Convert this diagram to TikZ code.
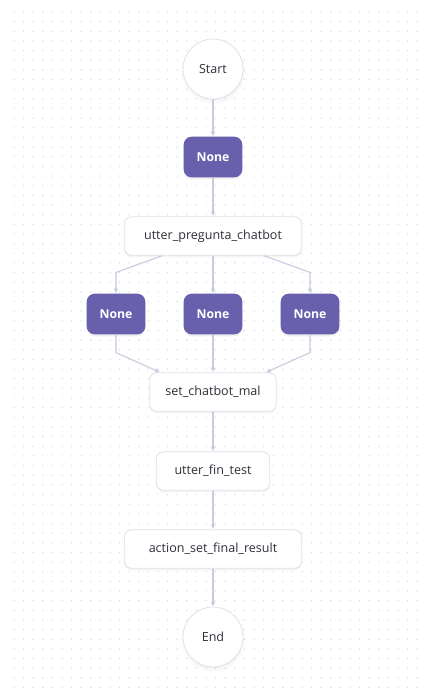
\documentclass[tikz,border=0pt]{standalone}
\usepackage{fontspec}
\setmainfont{Open Sans}
\usetikzlibrary{arrows.meta,shadows,calc}
\definecolor{nonefill}{HTML}{6860AD}
\definecolor{nodeborder}{HTML}{DEE1EC}
\definecolor{edgecol}{HTML}{C6CBE0}
\definecolor{dotcol}{HTML}{D6D8E4}
\definecolor{txt}{HTML}{2E3038}
\tikzset{
  base/.style={font=\fontsize{9.4}{11}\selectfont, text=txt, inner sep=0pt},
  plain/.style={base, rectangle, rounded corners=5.5pt, draw=nodeborder, line width=0.6pt, fill=white,
     minimum height=29pt, drop shadow={opacity=0.08, shadow xshift=0pt, shadow yshift=-1.5pt}},
  nonebox/.style={base, rectangle, rounded corners=6pt, fill=nonefill, text=white, font=\fontsize{9.2}{11}\selectfont\bfseries,
     minimum width=44pt, minimum height=30.5pt, drop shadow={opacity=0.12, shadow xshift=0pt, shadow yshift=-1.5pt}},
  term/.style={base, circle, draw=nodeborder, line width=0.6pt, fill=white, minimum size=45pt,
     circular drop shadow={opacity=0.08, shadow xshift=0pt, shadow yshift=-1.5pt}},
  edge/.style={draw=edgecol, line width=0.8pt, -{Latex[length=3.5pt,width=3.5pt]}},
}
\begin{document}
\begin{tikzpicture}[x=0.75pt,y=-0.75pt]
\useasboundingbox (0,0) rectangle (425,700);
\fill[white] (0,0) rectangle (425,700);
\foreach \i in {0,...,42}{
  \foreach \j in {0,...,70}{
    \fill[dotcol] ({14+9.6*\i},{12+9.65*\j}) circle (0.55pt);
  }
}
\node[term] (start) at (213,69) {Start};
\node[nonebox] (n0) at (213,157) {None};
\node[plain, minimum width=133pt] (up) at (213,236) {utter\_pregunta\_chatbot};
\node[nonebox] (nl) at (116,314) {None};
\node[nonebox] (nm) at (213,314) {None};
\node[nonebox] (nr) at (310,314) {None};
\node[plain, minimum width=95pt] (sm) at (213,392) {set\_chatbot\_mal};
\node[plain, minimum width=85pt] (ft) at (213,471) {utter\_fin\_test};
\node[plain, minimum width=133pt] (ar) at (213,549) {action\_set\_final\_result};
\node[term] (end) at (213,637) {End};

\draw[edge] (start) -- (n0);
\draw[edge] (n0) -- (up);
\draw[edge] ($(up.south)+(-51,0)$) -- ($(nl.north)+(0,-21)$) -- (nl.north);
\draw[edge] (up) -- (nm);
\draw[edge] ($(up.south)+(51,0)$) -- ($(nr.north)+(0,-21)$) -- (nr.north);
\draw[edge] (nl.south) -- ($(nl.south)+(0,18)$) -- ($(sm.north)+(-53,0)$);
\draw[edge] (nm) -- (sm);
\draw[edge] (nr.south) -- ($(nr.south)+(0,18)$) -- ($(sm.north)+(53,0)$);
\draw[edge] (sm) -- (ft);
\draw[edge] (ft) -- (ar);
\draw[edge] (ar) -- (end);
\end{tikzpicture}
\end{document}
